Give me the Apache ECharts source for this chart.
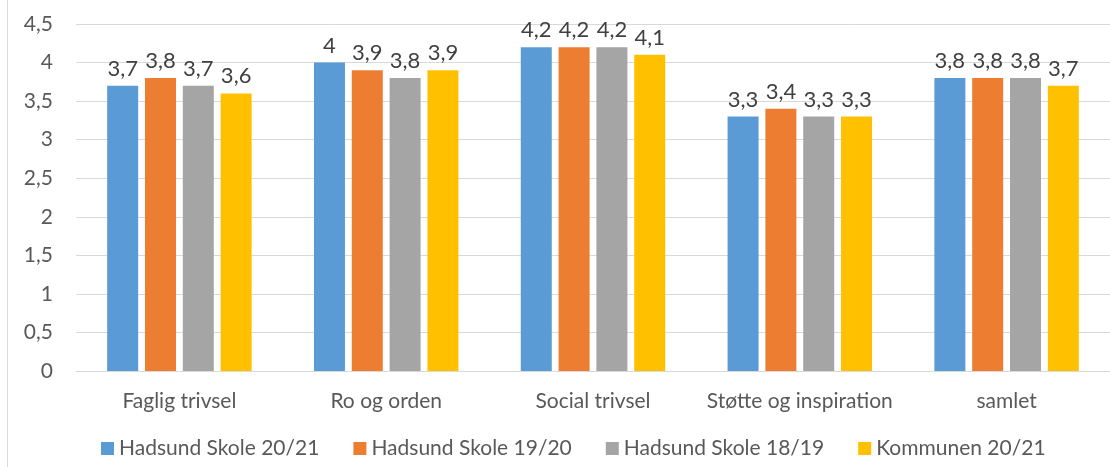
<!DOCTYPE html>
<html lang="da">
<head>
<meta charset="utf-8">
<title>Trivsel</title>
<script src="https://cdn.jsdelivr.net/npm/echarts@6/dist/echarts.min.js"></script>
<style>
  html, body { margin: 0; padding: 0; background: #fff; }
  #chart { width: 1110px; height: 467px; }
</style>
</head>
<body>
<div id="chart"></div>
<script>
  // categories and series
  const categories = ['Faglig trivsel', 'Ro og orden', 'Social trivsel', 'Støtte og inspiration', 'samlet'];
  const seriesNames = ['Hadsund Skole 20/21', 'Hadsund Skole 19/20', 'Hadsund Skole 18/19', 'Kommunen 20/21'];
  const hadsund2021 = [3.7, 4.0, 4.2, 3.3, 3.8];
  const hadsund1920 = [3.8, 3.9, 4.2, 3.4, 3.8];
  const hadsund1819 = [3.7, 3.8, 4.2, 3.3, 3.8];
  const kommunen2021 = [3.6, 3.9, 4.1, 3.3, 3.7];
  const colors = ['#5b9bd5', '#ed7d31', '#a5a5a5', '#ffc000'];

  const fontFam = 'Lato, "Open Sans", sans-serif';
  const comma = v => String(v).replace('.', ',');

  let chart = echarts.init(document.getElementById('chart'));

  const allData = [hadsund2021, hadsund1920, hadsund1819, kommunen2021];
  let series = allData.map(function (d, i) {
    return {
      name: seriesNames[i],
      type: 'bar',
      data: d,
      barWidth: 31,
      barGap: '22%',
      itemStyle: { color: colors[i] },
      label: {
        show: true,
        position: 'top',
        distance: 6,
        color: '#404040',
        fontSize: 22,
        fontFamily: fontFam,
        formatter: p => comma(p.value)
      }
    };
  });

  let option = {
    animation: false,
    color: colors,
    textStyle: { fontFamily: fontFam },
    graphic: [{
      type: 'line',
      shape: { x1: 7.5, y1: 0, x2: 7.5, y2: 467 },
      style: { stroke: '#d9d9d9', lineWidth: 1 }
    }],
    grid: { left: 76, right: -12, top: 24, bottom: 96, containLabel: false },
    legend: {
      data: seriesNames,
      bottom: 3,
      left: 96,
      itemWidth: 13,
      itemHeight: 13,
      itemGap: 34,
      icon: 'rect',
      textStyle: { color: '#595959', fontSize: 21, fontFamily: fontFam }
    },
    xAxis: {
      type: 'category',
      data: categories,
      axisLine: { lineStyle: { color: '#d9d9d9', width: 1 } },
      axisTick: { show: false },
      axisLabel: { interval: 0, color: '#595959', fontSize: 21, fontFamily: fontFam, margin: 20 }
    },
    yAxis: {
      type: 'value',
      min: 0,
      max: 4.5,
      interval: 0.5,
      axisLine: { show: false },
      axisTick: { show: false },
      splitLine: { lineStyle: { color: '#d9d9d9', width: 1 } },
      axisLabel: {
        color: '#595959',
        fontSize: 21,
        fontFamily: fontFam,
        margin: 23,
        formatter: v => comma(v)
      }
    },
    series: series
  };

  chart.setOption(option);
</script>
</body>
</html>
